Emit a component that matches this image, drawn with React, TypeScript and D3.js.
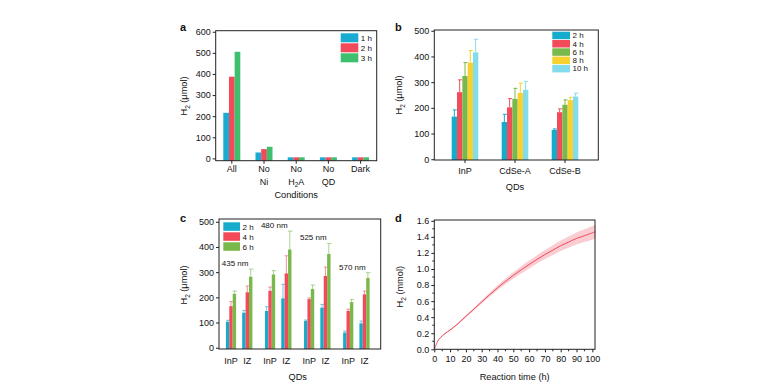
import React, { useEffect, useRef } from "react"
import * as d3 from "d3"

const FONT = "'Liberation Sans', Arial, Helvetica, sans-serif"
const INK = "#111"

// ---- panel a: conditions
const aCats = [["All"], ["No", "Ni"], ["No", "H_2A"], ["No", "QD"], ["Dark"]]
const aSeries = ["1 h", "2 h", "3 h"]
const aColors = ["#19acd0", "#f2495b", "#3dbf6d"]
const a1h = [216, 28, 5, 5, 5]
const a2h = [387, 44, 5, 5, 5]
const a3h = [505, 55, 5, 5, 5]
const aTicks = [0, 100, 200, 300, 400, 500, 600]

// ---- panel b: QDs over time
const bCats = ["InP", "CdSe-A", "CdSe-B"]
const bSeries = ["2 h", "4 h", "6 h", "8 h", "10 h"]
const bColors = ["#16aacb", "#f34a5a", "#79b84b", "#f7d22f", "#82dcec"]
const b2h = [166, 145, 114]
const b4h = [261, 202, 183]
const b6h = [324, 235, 212]
const b8h = [376, 258, 230]
const b10h = [416, 270, 244]
const b2hErr = [26, 30, 4]
const b4hErr = [48, 34, 13]
const b6hErr = [52, 41, 19]
const b8hErr = [47, 38, 11]
const b10hErr = [51, 32, 13]
const bTicks = [0, 100, 200, 300, 400, 500]

// ---- panel c: wavelengths
const cGroups = ["435  nm", "480  nm", "525  nm", "570 nm"]
const cQDs = ["InP", "IZ"]
const cSeries = ["2 h", "4 h", "6 h"]
const cColors = ["#16aacb", "#f34a5a", "#79b84b"]
// order: 435 InP, 435 IZ, 480 InP, 480 IZ, 525 InP, 525 IZ, 570 InP, 570 IZ
const c2h = [103, 139, 146, 196, 106, 159, 60, 97]
const c4h = [165, 220, 226, 295, 193, 285, 146, 212]
const c6h = [214, 282, 291, 390, 233, 372, 181, 277]
const c2hErr = [6, 9, 17, 56, 4, 13, 6, 9]
const c4hErr = [18, 25, 15, 70, 5, 35, 7, 13]
const c6hErr = [11, 30, 15, 73, 16, 42, 11, 21]
const cTicks = [0, 100, 200, 300, 400, 500]

// ---- panel d: long run
const dHours = [0, 1, 2, 3, 5, 7, 10, 15, 20, 25, 30, 35, 40, 45, 50, 55, 60, 65, 70, 75, 80, 85, 90, 95, 100, 102]
const dMean = [0, 0.05, 0.095, 0.125, 0.166, 0.2, 0.24, 0.32, 0.41, 0.5, 0.59, 0.68, 0.765, 0.845, 0.92, 0.99, 1.055, 1.12, 1.18, 1.235, 1.29, 1.335, 1.38, 1.415, 1.45, 1.465]
const dErr = [0, 0.002, 0.004, 0.005, 0.006, 0.008, 0.01, 0.012, 0.015, 0.018, 0.02, 0.025, 0.03, 0.035, 0.04, 0.045, 0.05, 0.052, 0.055, 0.06, 0.065, 0.07, 0.075, 0.08, 0.085, 0.087]
const dXTicks = [0, 10, 20, 30, 40, 50, 60, 70, 80, 90, 100]
const dYTicks = [0, 0.2, 0.4, 0.6, 0.8, 1.0, 1.2, 1.4, 1.6]

function subText(sel, str, size) {
  const parts = str.split("_2")
  sel.append("tspan").text(parts[0])
  if (parts.length > 1) {
    sel.append("tspan").attr("font-size", size * 0.7).attr("dy", size * 0.28).text("2")
    sel.append("tspan").attr("dy", -size * 0.28).text(parts[1])
  }
}

function frame(g, box) {
  g.append("rect")
    .attr("x", box.l).attr("y", box.t)
    .attr("width", box.r - box.l).attr("height", box.b - box.t)
    .attr("fill", "none").attr("stroke", "#222").attr("stroke-width", 1)
}

function yAxis(g, y, x, ticks, fmt) {
  const ax = g.append("g").attr("transform", `translate(${x},0)`)
    .call(d3.axisLeft(y).tickValues(ticks).tickSize(3).tickPadding(2).tickFormat(fmt))
  ax.attr("font-family", FONT).attr("font-size", 9)
  ax.select(".domain").remove()
  ax.selectAll("text").attr("fill", INK)
  ax.selectAll("line").attr("stroke", "#222")
}

function yTitle(g, x, y, str) {
  const t = g.append("text")
    .attr("transform", `translate(${x},${y}) rotate(-90)`)
    .attr("text-anchor", "middle").attr("font-family", FONT).attr("font-size", 9.2).attr("fill", INK)
  subText(t, str, 9.2)
}

function label(g, x, y, str, size, anchor, weight) {
  const t = g.append("text").attr("x", x).attr("y", y)
    .attr("text-anchor", anchor || "middle").attr("font-family", FONT)
    .attr("font-size", size).attr("fill", INK).attr("font-weight", weight || "normal")
  subText(t, str, size)
  return t
}

function legend(g, x, y0, step, h, w, names, colors) {
  names.forEach((n, i) => {
    g.append("rect").attr("x", x).attr("y", y0 + i * step).attr("width", w).attr("height", h).attr("fill", colors[i])
    g.append("text").attr("x", x + w + 2.5).attr("y", y0 + i * step + h - 1)
      .attr("font-family", FONT).attr("font-size", 8).attr("fill", INK).text(n)
  })
}

function drawA(svg) {
  const box = { l: 215.7, r: 376.7, t: 30.7, b: 160.7 }
  const g = svg.append("g")
  const y = d3.scaleLinear().domain([-11, 605]).range([box.b, box.t])
  const x = d3.scaleBand().domain(d3.range(aCats.length)).range([box.l, box.r])
  const sub = d3.scaleBand().domain(aSeries).range([-8.5, 8.5])
  const series = [a1h, a2h, a3h]
  series.forEach((vals, si) => {
    g.append("g").selectAll("rect").data(vals).enter().append("rect")
      .attr("x", (d, i) => x(i) + x.bandwidth() / 2 + sub(aSeries[si]))
      .attr("y", d => y(d))
      .attr("width", sub.bandwidth())
      .attr("height", d => y(-11) - y(d))
      .attr("fill", aColors[si])
  })
  frame(g, box)
  yAxis(g, y, box.l, aTicks, d3.format("d"))
  aCats.forEach((lines, i) => {
    const cx = x(i) + x.bandwidth() / 2
    g.append("line").attr("x1", cx).attr("x2", cx).attr("y1", box.b).attr("y2", box.b + 3).attr("stroke", "#222")
    lines.forEach((ln, j) => label(g, cx, box.b + 11.5 + j * 12.5, ln, 9))
  })
  label(g, (box.l + box.r) / 2, 197.5, "Conditions", 9.2)
  yTitle(g, 187.3, 96, "H_2 (μmol)")
  label(g, 180, 31, "a", 11, "start", "bold")
  legend(g, 340.7, 33.3, 10, 9, 17.6, aSeries, aColors)
}

function drawB(svg) {
  const box = { l: 434.3, r: 598.3, t: 30, b: 160 }
  const g = svg.append("g")
  const y = d3.scaleLinear().domain([-3, 503]).range([box.b, box.t])
  const x = d3.scaleLinear().domain([-0.614, 2.666]).range([box.l, box.r])
  const sub = d3.scaleBand().domain(bSeries).range([-13.3, 13.3])
  const means = [b2h, b4h, b6h, b8h, b10h]
  const errs = [b2hErr, b4hErr, b6hErr, b8hErr, b10hErr]
  means.forEach((vals, si) => {
    const sg = g.append("g")
    const w = sub.bandwidth()
    vals.forEach((v, i) => {
      const x0 = x(i) + sub(bSeries[si])
      const e = errs[si][i]
      sg.append("line").attr("x1", x0 + w / 2).attr("x2", x0 + w / 2).attr("y1", y(v)).attr("y2", y(v + e))
        .attr("stroke", bColors[si]).attr("stroke-width", 1)
      sg.append("line").attr("x1", x0 + w / 2 - 1.5).attr("x2", x0 + w / 2 + 2.5).attr("y1", y(v + e)).attr("y2", y(v + e))
        .attr("stroke", bColors[si]).attr("stroke-width", 1)
      sg.append("rect").attr("x", x0).attr("y", y(v)).attr("width", w).attr("height", y(-3) - y(v)).attr("fill", bColors[si])
    })
  })
  frame(g, box)
  yAxis(g, y, box.l, bTicks, d3.format("d"))
  bCats.forEach((c, i) => {
    g.append("line").attr("x1", x(i)).attr("x2", x(i)).attr("y1", box.b).attr("y2", box.b + 3).attr("stroke", "#222")
    label(g, x(i), 173.5, c, 9)
  })
  label(g, x(1), 190, "QDs", 9.2)
  yTitle(g, 402.3, 95, "H_2 (μmol)")
  label(g, 395, 31, "b", 11, "start", "bold")
  legend(g, 552.3, 31.7, 8.3, 7.5, 17.7, bSeries, bColors)
}

function drawC(svg) {
  const box = { l: 219, r: 380.7, t: 219, b: 349 }
  const g = svg.append("g")
  const y = d3.scaleLinear().domain([-5, 511]).range([box.b, box.t])
  const xg = d3.scaleLinear().domain([-0.5157, 3.623]).range([box.l, box.r])
  const qd = d3.scaleBand().domain(cQDs).range([-16.3, 16.3])
  const sub = d3.scaleBand().domain(cSeries).range([-5.1, 5.1])
  const means = [c2h, c4h, c6h]
  const errs = [c2hErr, c4hErr, c6hErr]
  const pos = i => xg(Math.floor(i / 2)) + qd(cQDs[i % 2]) + qd.bandwidth() / 2
  means.forEach((vals, si) => {
    const sg = g.append("g")
    const w = sub.bandwidth()
    vals.forEach((v, i) => {
      const x0 = pos(i) + sub(cSeries[si])
      const e = errs[si][i]
      sg.append("line").attr("x1", x0 + w / 2).attr("x2", x0 + w / 2).attr("y1", y(v)).attr("y2", y(v + e))
        .attr("stroke", cColors[si]).attr("stroke-width", 1).attr("opacity", 0.6)
      sg.append("line").attr("x1", x0).attr("x2", x0 + w + 1).attr("y1", y(v + e)).attr("y2", y(v + e))
        .attr("stroke", cColors[si]).attr("stroke-width", 1).attr("opacity", 0.6)
      sg.append("rect").attr("x", x0).attr("y", y(v)).attr("width", w).attr("height", y(-5) - y(v)).attr("fill", cColors[si])
    })
  })
  frame(g, box)
  yAxis(g, y, box.l, cTicks, d3.format("d"))
  c2h.forEach((v, i) => {
    label(g, pos(i), 363.5, cQDs[i % 2], 9)
  })
  cGroups.forEach((name, gi) => {
    const top = d3.max([0, 1, 2], si => means[si][gi * 2] + errs[si][gi * 2])
    const top2 = d3.max([0, 1, 2], si => means[si][gi * 2 + 1] + errs[si][gi * 2 + 1])
    label(g, xg(gi) - 4, y(Math.max(top, top2)) - 3, name, 8)
  })
  label(g, (xg(0) + xg(3)) / 2, 380, "QDs", 9.2)
  yTitle(g, 187.3, 285, "H_2 (μmol)")
  label(g, 180, 221.7, "c", 11, "start", "bold")
  legend(g, 223.3, 222.3, 10, 8.5, 16.7, cSeries, cColors)
}

function drawD(svg) {
  const box = { l: 434.3, r: 595, t: 220, b: 349.3 }
  const g = svg.append("g")
  const x = d3.scaleLinear().domain([0, 101.7]).range([box.l, box.r])
  const y = d3.scaleLinear().domain([0, 1.61]).range([box.b, box.t])
  const pts = dHours.map((h, i) => ({ h, m: dMean[i], e: dErr[i] }))
  const area = d3.area().x(d => x(d.h)).y0(d => y(d.m - d.e)).y1(d => y(d.m + d.e)).curve(d3.curveCatmullRom.alpha(0.5))
  const line = d3.line().x(d => x(d.h)).y(d => y(d.m)).curve(d3.curveCatmullRom.alpha(0.5))
  g.append("path").datum(pts).attr("d", area).attr("fill", "#f9c4ca").attr("opacity", 0.85)
  g.append("path").datum(pts).attr("d", line).attr("fill", "none").attr("stroke", "#ef4a5d").attr("stroke-width", 1)
  frame(g, box)
  yAxis(g, y, box.l, dYTicks, d3.format(".1f"))
  // minor ticks
  g.append("g").selectAll("line").data(d3.range(0.1, 1.6, 0.2)).enter().append("line")
    .attr("x1", box.l - 2).attr("x2", box.l).attr("y1", d => y(d)).attr("y2", d => y(d)).attr("stroke", "#222")
  g.append("g").selectAll("line").data(d3.range(5, 101, 10)).enter().append("line")
    .attr("x1", d => x(d)).attr("x2", d => x(d)).attr("y1", box.b).attr("y2", box.b + 2).attr("stroke", "#222")
  const ax = g.append("g").attr("transform", `translate(0,${box.b})`)
    .call(d3.axisBottom(x).tickValues(dXTicks).tickSize(3).tickPadding(3.5).tickFormat(d3.format("d")))
  ax.attr("font-family", FONT).attr("font-size", 9)
  ax.select(".domain").remove()
  ax.selectAll("text").attr("fill", INK)
  ax.selectAll("line").attr("stroke", "#222")
  label(g, (box.l + box.r) / 2, 379.5, "Reaction time (h)", 9.2)
  yTitle(g, 403.3, 286.7, "H_2 (mmol)")
  label(g, 395, 221.7, "d", 11, "start", "bold")
}

export default function App() {
  const ref = useRef(null)
  useEffect(() => {
    const svg = d3.select(ref.current)
    svg.selectAll("*").remove()
    drawA(svg)
    drawB(svg)
    drawC(svg)
    drawD(svg)
  }, [])
  return (
    <svg ref={ref} width={772} height={385}
      style={{ position: "absolute", left: 0, top: 0, background: "#fff" }} />
  )
}
